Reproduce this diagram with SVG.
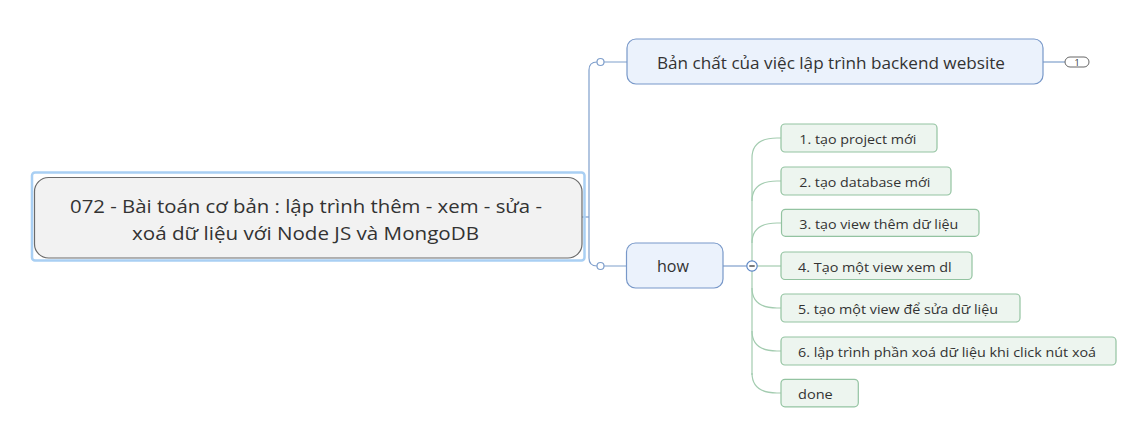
<svg xmlns="http://www.w3.org/2000/svg" width="1136" height="435" viewBox="0 0 1136 435">
<style>
text{font-family:"Open Sans","Noto Sans","DejaVu Sans",sans-serif;fill:#333333}
.bl{fill:none;stroke:#7f9fcc;stroke-width:1.2}
.gr{fill:none;stroke:#a3ccb0;stroke-width:1.2}
.bnode{fill:#ebf2fc;stroke:#7898c9;stroke-width:1.2}
.gnode{fill:#edf5ef;stroke:#93c3a1;stroke-width:1.2}
.ct{font-size:13.5px}
</style>
<rect width="1136" height="435" fill="#ffffff"/>
<g id="connectors">
  <path class="bl" d="M582,217 H589"/>
  <path class="bl" d="M597,62 Q589,62 589,70 V258 Q589,266 597,266"/>
  <path class="bl" d="M604,62 H627 M604,266 H626.5"/>
  <circle cx="600.5" cy="62" r="3.5" fill="#fff" stroke="#7f9fcc" stroke-width="1.2"/>
  <circle cx="600.5" cy="266" r="3.5" fill="#fff" stroke="#7f9fcc" stroke-width="1.2"/>
  <path class="bl" d="M1043,62 H1065"/>
  <path class="bl" d="M723,266 H746.7"/>
  <path class="gr" d="M752,158 V261 M752,271 V375"/>
  <path class="gr" d="M752,158 C752,144 762,138 777,138 H781"/>
  <path class="gr" d="M752,201 C752,187 762,181 777,181 H781"/>
  <path class="gr" d="M752,243 C752,229 762,223 777,223 H781"/>
  <path class="gr" d="M757,266 H781"/>
  <path class="gr" d="M752,288 C752,302 762,308 777,308 H781"/>
  <path class="gr" d="M752,331 C752,345 762,351 777,351 H781"/>
  <path class="gr" d="M752,373 C752,387 762,393 777,393 H781"/>
</g>
<g id="root">
  <rect x="32" y="172.5" width="552.5" height="88" rx="3" fill="none" stroke="#a9cff3" stroke-width="2.5"/>
  <rect x="34.5" y="177.5" width="547.5" height="80.5" rx="14" fill="#f2f2f2" stroke="#6b6b6b" stroke-width="1.2"/>
  <text x="70" y="212.7" font-size="19" textLength="472" lengthAdjust="spacingAndGlyphs">072 - Bài toán cơ bản : lập trình thêm - xem - sửa -</text>
  <text x="132" y="240" font-size="19" textLength="347" lengthAdjust="spacingAndGlyphs">xoá dữ liệu với Node JS và MongoDB</text>
</g>
<g id="node-top">
  <rect class="bnode" x="627" y="39" width="416" height="45" rx="9"/>
  <text x="657" y="69" font-size="17" textLength="348" lengthAdjust="spacingAndGlyphs">Bản chất của việc lập trình backend website</text>
  <rect x="1065" y="57" width="24" height="10" rx="5" fill="#fff" stroke="#666" stroke-width="1"/>
  <text x="1077" y="65.5" font-size="9" text-anchor="middle">1</text>
</g>
<g id="node-how">
  <rect class="bnode" x="626.5" y="243" width="96.5" height="45" rx="9"/>
  <text x="657" y="272.3" font-size="17" textLength="32" lengthAdjust="spacingAndGlyphs">how</text>
  <circle cx="752" cy="266" r="5.2" fill="#fff" stroke="#5b86c5" stroke-width="1.2"/>
  <path d="M749.3,266 H754.7" stroke="#333" stroke-width="1.3"/>
</g>
<g id="step1">
  <rect class="gnode" x="781" y="124" width="156" height="28" rx="4"/>
  <text class="ct" x="799.3" y="144.3" textLength="117" lengthAdjust="spacingAndGlyphs">1. tạo project mới</text>
</g>
<g id="step2">
  <rect class="gnode" x="781" y="167" width="170" height="28" rx="4"/>
  <text class="ct" x="799.3" y="187" textLength="131" lengthAdjust="spacingAndGlyphs">2. tạo database mới</text>
</g>
<g id="step3">
  <rect class="gnode" x="781.5" y="209.3" width="197.5" height="27" rx="4"/>
  <text class="ct" x="799.3" y="229" textLength="159" lengthAdjust="spacingAndGlyphs">3. tạo view thêm dữ liệu</text>
</g>
<g id="step4">
  <rect class="gnode" x="781" y="252" width="191" height="27.5" rx="4"/>
  <text class="ct" x="798" y="272" textLength="153.7" lengthAdjust="spacingAndGlyphs">4. Tạo một view xem dl</text>
</g>
<g id="step5">
  <rect class="gnode" x="781" y="294" width="239" height="28" rx="4"/>
  <text class="ct" x="798" y="314" textLength="200" lengthAdjust="spacingAndGlyphs">5. tạo một view để sửa dữ liệu</text>
</g>
<g id="step6">
  <rect class="gnode" x="781" y="337" width="335" height="28" rx="4"/>
  <text class="ct" x="798" y="357" textLength="298" lengthAdjust="spacingAndGlyphs">6. lập trình phần xoá dữ liệu khi click nút xoá</text>
</g>
<g id="done">
  <rect class="gnode" x="781" y="379.3" width="77.3" height="27.5" rx="4"/>
  <text class="ct" x="798" y="399.3" textLength="34.7" lengthAdjust="spacingAndGlyphs">done</text>
</g>
</svg>
